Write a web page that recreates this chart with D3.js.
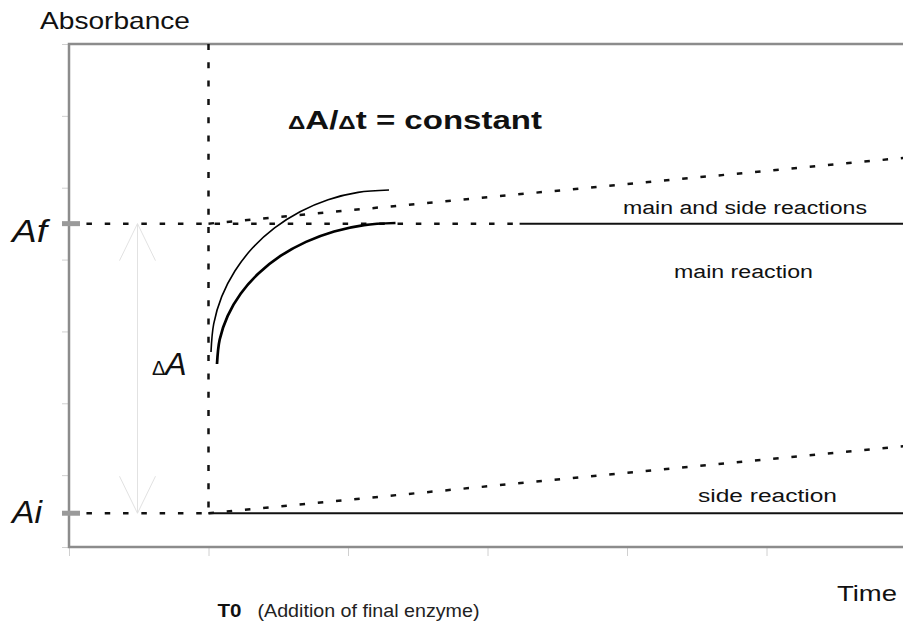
<!DOCTYPE html>
<html><head><meta charset="utf-8">
<script src="https://cdn.jsdelivr.net/npm/d3@7"></script>
<style>
html,body{margin:0;padding:0;background:#fff;}
svg{display:block;font-family:"Liberation Sans",Arial,sans-serif;}
</style></head>
<body><svg id="c" width="903" height="630"></svg>
<script>
// ---- data ----
const xTicks = [-1, 0, 1, 2, 3, 4, 5];
const yTicks = [0, 1, 2, 3, 4, 5, 6, 7];
const levelNames = ["Af", "Ai"];
const levelValues = [4.5, 0.47];
const T0 = 0;
const mainSideX = [0, 5.5];
const mainSideY = [4.5, 5.51];
const sideX = [0, 5.5];
const sideY = [0.47, 1.5];
const mainPlateauStart = 2.23;
const thinCurveX = [0.0179, 0.0373, 0.0946, 0.1892, 0.3168, 0.4738, 0.6559, 0.8573, 1.0724, 1.2939];
const thinCurveY = [2.714, 3.105, 3.485, 3.841, 4.164, 4.441, 4.666, 4.833, 4.935, 4.968];
const thickCurveX = [0.0609, 0.0803, 0.1376, 0.2315, 0.3599, 0.5161, 0.6989, 0.9004, 1.1154, 1.3405];
const thickCurveY = [2.547, 2.888, 3.217, 3.528, 3.809, 4.050, 4.246, 4.391, 4.480, 4.509];
const deltaArrowX = -0.509;
const dashStartX = -0.875;

// ---- scales ----
const svg = d3.select("#c");
const x = d3.scaleLinear().domain([-1, 5.5]).range([69, 975.75]);
const y = d3.scaleLinear().domain([0, 7]).range([547, 44]);
const Af = levelValues[0], Ai = levelValues[1];

// minor ticks
const ya = svg.append("g").attr("transform", `translate(${x(-1)},0)`)
  .call(d3.axisLeft(y).tickValues(yTicks).tickSize(7).tickFormat(""));
ya.select(".domain").remove();
ya.selectAll("line").attr("stroke", "#d0d0d0");
const xa = svg.append("g").attr("transform", `translate(0,${y(0)})`)
  .call(d3.axisBottom(x).tickValues(xTicks).tickSize(9).tickFormat(""));
xa.select(".domain").remove();
xa.selectAll("line").attr("stroke", "#d0d0d0");

// frame
svg.append("rect").attr("x", x(-1)).attr("y", y(7))
  .attr("width", x(5.5) - x(-1)).attr("height", y(0) - y(7))
  .attr("fill", "none").attr("stroke", "#8c8c8c").attr("stroke-width", 2.5);

// level ticks
svg.selectAll(".lvl").data(levelValues).join("line")
  .attr("x1", x(-1) - 7).attr("x2", x(-1) + 11)
  .attr("y1", d => y(d)).attr("y2", d => y(d))
  .attr("stroke", "#9a9a9a").attr("stroke-width", 5);

const line = d3.line().x(d => x(d[0])).y(d => y(d[1]));
const dash = "5.5,12.8";
function seg(pts, w, da, col) {
  return svg.append("path").attr("d", line(pts)).attr("fill", "none")
    .attr("stroke", col || "#111").attr("stroke-width", w)
    .attr("stroke-dasharray", da || null);
}

// Delta A arrow (faint)
const ax = x(deltaArrowX), yTop = y(Af), yBot = y(Ai);
svg.append("path").attr("fill", "none").attr("stroke", "#e2e2e2").attr("stroke-width", 1)
  .attr("d", `M${ax},${yTop}L${ax},${yBot}M${ax-18},${yTop+37}L${ax},${yTop}L${ax+18},${yTop+37}M${ax-18},${yBot-37}L${ax},${yBot}L${ax+18},${yBot-37}`);

// horizontal dashed levels
seg([[dashStartX, Af], [mainPlateauStart, Af]], 2.5, dash);
seg([[mainPlateauStart, Af], [5.5, Af]], 2);
seg([[dashStartX, Ai], [T0, Ai]], 2.5, dash);
seg([[T0, Ai], [5.5, Ai]], 2);
// vertical T0 dashed
seg([[T0, 7], [T0, Ai]], 2.5, "6,12.3");
// rising dashed lines
seg(d3.zip(mainSideX, mainSideY), 2.5, dash);
seg(d3.zip(sideX, sideY), 2.5, dash);

// curves
const curve = d3.line().x(d => x(d[0])).y(d => y(d[1])).curve(d3.curveCatmullRom.alpha(0.5));
svg.append("path").attr("d", curve(d3.zip(thinCurveX, thinCurveY)))
  .attr("fill", "none").attr("stroke", "#000").attr("stroke-width", 1.6);
svg.append("path").attr("d", curve(d3.zip(thickCurveX, thickCurveY)))
  .attr("fill", "none").attr("stroke", "#000").attr("stroke-width", 2.7);

// ---- text ----
function txt(str, px, py, size, len, opts = {}) {
  const t = svg.append("text").attr("x", px).attr("y", py)
    .attr("font-size", size).attr("fill", opts.fill || "#111")
    .attr("font-weight", opts.weight || "normal")
    .attr("font-style", opts.style || "normal").text(str);
  if (len) t.attr("textLength", len).attr("lengthAdjust", "spacingAndGlyphs");
  return t;
}
txt("Absorbance", 40, 29, 24, 150);
txt(levelNames[0], 12, y(Af) + 18, 31, 35, {style: "italic"});
txt(levelNames[1], 12, y(Ai) + 10, 31, 30, {style: "italic"});

// Delta A label
const dA = svg.append("text").attr("x", 152).attr("y", 375).attr("fill", "#111");
dA.append("tspan").attr("font-size", 20).text("Δ");
dA.append("tspan").attr("font-size", 32).attr("font-style", "italic").text("A");

// formula
const f = svg.append("text").attr("x", 288).attr("y", 129).attr("fill", "#111")
  .attr("font-weight", "bold").attr("textLength", 254).attr("lengthAdjust", "spacingAndGlyphs");
f.append("tspan").attr("font-size", 19).text("Δ");
f.append("tspan").attr("font-size", 26).text("A/");
f.append("tspan").attr("font-size", 19).text("Δ");
f.append("tspan").attr("font-size", 26).text("t = constant");

txt("main and side reactions", 623, 214, 18, 244, {fill: "#111"});
txt("main reaction", 674, 278, 18, 139, {fill: "#111"});
txt("side  reaction", 698, 502, 18, 139, {fill: "#111"});
txt("Time", 837, 601, 22, 60);
txt("T0", x(T0) + 9, 617, 19, 24, {weight: "bold"});
txt("(Addition of final enzyme)", x(T0) + 49, 617, 19, 222, {fill: "#222"});
</script></body></html>
